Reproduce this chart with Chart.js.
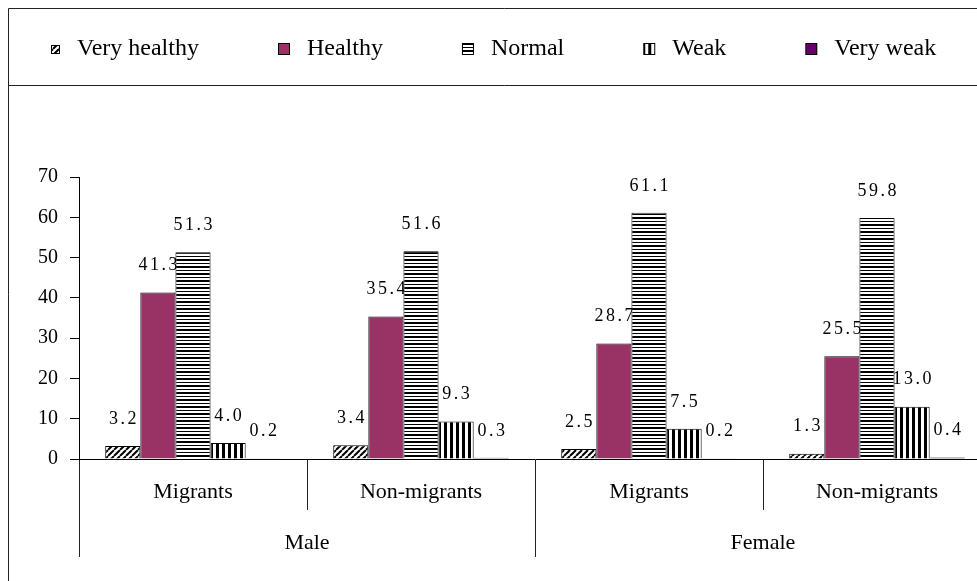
<!DOCTYPE html>
<html>
<head>
<meta charset="utf-8">
<title>Health status of migrants and non-migrants</title>
<script src="https://cdn.jsdelivr.net/npm/chart.js@4/dist/chart.umd.min.js"></script>
<style>
  html, body { margin: 0; padding: 0; background: #fff; overflow: hidden; }
  #wrap { position: relative; width: 1000px; height: 581px; }
</style>
</head>
<body>
<div id="wrap"><canvas id="healthchart"></canvas></div>
<script>
var groups = ["Migrants", "Non-migrants", "Migrants", "Non-migrants"];
var sexes = ["Male", "Female"];
var statusNames = ["Very healthy", "Healthy", "Normal", "Weak", "Very weak"];
var veryHealthy = [3.2, 3.4, 2.5, 1.3];
var healthy = [41.3, 35.4, 28.7, 25.5];
var normal = [51.3, 51.6, 61.1, 59.8];
var weak = [4.0, 9.3, 7.5, 13.0];
var veryWeak = [0.2, 0.3, 0.2, 0.4];
var yTicks = [0, 10, 20, 30, 40, 50, 60, 70];

var SERIF = '"Liberation Serif", "Times New Roman", Times, serif';
Chart.defaults.font.family = SERIF;
Chart.defaults.color = "#000";

var KEY_W = 96; // width of each legend key image

// little black & white fills like the old excel patterns
function makeTile(w, h, draw) {
  var c = document.createElement("canvas");
  c.width = w;
  c.height = h;
  var g = c.getContext("2d");
  g.fillStyle = "#fff";
  g.fillRect(0, 0, w, h);
  g.fillStyle = "#000";
  g.strokeStyle = "#000";
  draw(g);
  return g.createPattern(c, "repeat");
}

var diagFill = makeTile(6, 6, function (g) {
  g.lineWidth = 2;
  g.beginPath();
  for (var o = -6; o <= 6; o += 6) {
    g.moveTo(o, 6);
    g.lineTo(o + 6, 0);
  }
  g.stroke();
});
var hLinesFill = makeTile(4, 7, function (g) {
  g.fillRect(0, 0, 4, 2);
  g.fillRect(0, 4, 4, 1);
});
var vLinesFill = makeTile(6, 4, function (g) { g.fillRect(0, 0, 3, 4); });

var fills = [diagFill, "#993366", hLinesFill, vLinesFill, "#660066"];
var seriesData = [veryHealthy, healthy, normal, weak, veryWeak];

// legend keys: swatch sits near the right of a wide transparent image
function makeSwatch(fill, size) {
  var c = document.createElement("canvas");
  c.width = KEY_W;
  c.height = 12;
  var g = c.getContext("2d");
  var x = c.width - size - 5;
  var y = Math.round((c.height - size) / 2);
  g.fillStyle = fill;
  g.fillRect(x, y, size, size);
  g.strokeStyle = "#000";
  g.lineWidth = 1;
  g.strokeRect(x + 0.5, y + 0.5, size - 1, size - 1);
  return c;
}
var swatches = fills.map(function (f, i) { return makeSwatch(f, i === 0 ? 9 : 12); });

var frame = {
  id: "frame",
  beforeDraw: function (chart) {
    var c = chart.ctx;
    c.save();
    c.strokeStyle = "#222";
    c.lineWidth = 1;
    c.beginPath();
    c.moveTo(8.5, chart.height);
    c.lineTo(8.5, 8.5);
    c.lineTo(chart.width, 8.5);
    c.moveTo(8.5, 85.5);
    c.lineTo(chart.width, 85.5);
    c.stroke();
    c.restore();
  }
};

// spaced-out text, drawn one char at a time
function spacedText(c, str, cx, cy, gap) {
  var widths = str.split("").map(function (ch) { return c.measureText(ch).width; });
  var total = widths.reduce(function (a, b) { return a + b; }, 0) + gap * (str.length - 1);
  var x = cx - total / 2;
  str.split("").forEach(function (ch, k) {
    c.fillText(ch, x, cy);
    x += widths[k] + gap;
  });
}

// value labels go under the bars, like in the original
var barLabels = {
  id: "barLabels",
  beforeDatasetsDraw: function (chart) {
    var c = chart.ctx;
    c.save();
    c.font = "18px " + SERIF;
    c.fillStyle = "#000";
    c.textAlign = "left";
    c.textBaseline = "middle";
    chart.data.datasets.forEach(function (ds, i) {
      chart.getDatasetMeta(i).data.forEach(function (bar, j) {
        spacedText(c, ds.data[j].toFixed(1), bar.x, bar.y - 27, 2.5);
      });
    });
    c.restore();
  }
};

var ctx = document.getElementById("healthchart").getContext("2d");
var myChart = new Chart(ctx, {
  type: "bar",
  data: {
    labels: groups,
    datasets: statusNames.map(function (name, i) {
      return {
        label: name,
        data: seriesData[i],
        backgroundColor: fills[i],
        borderColor: "#000",
        borderWidth: 1,
        categoryPercentage: 0.77,
        barPercentage: 1.0,
      };
    }),
  },
  options: {
    responsive: true,
    maintainAspectRatio: false,
    animation: false,
    events: [],
    layout: { padding: { top: 37, left: -31, right: 9, bottom: 0 } },
    plugins: {
      tooltip: { enabled: false },
      legend: {
        position: "top",
        align: "start",
        weight: 1000,
        labels: {
          usePointStyle: true,
          pointStyleWidth: KEY_W,
          padding: 0,
          color: "#000",
          font: { size: 24 },
          generateLabels: function (chart) {
            var items = Chart.defaults.plugins.legend.labels.generateLabels(chart);
            items.forEach(function (item, i) {
              item.pointStyle = swatches[i];
            });
            return items;
          },
        },
      },
    },
    scales: {
      xTop: {
        type: "category",
        position: "top",
        grid: { display: false },
        border: { display: false },
        ticks: { display: false },
        afterFit: function (s) { s.height = 106; },
      },
      x: {
        position: "bottom",
        weight: 0,
        grid: { offset: true, drawOnChartArea: false, tickLength: 51, color: "#222" },
        border: { color: "#000" },
        ticks: { font: { size: 22 }, padding: -31, maxRotation: 0, autoSkip: false },
        afterFit: function (s) { s.height = 51; },
      },
      x2: {
        type: "category",
        labels: sexes,
        position: "bottom",
        weight: 1,
        offset: true,
        grid: { offset: true, drawOnChartArea: false, tickLength: 47, color: "#222" },
        border: { display: false },
        ticks: { font: { size: 22 }, padding: -27, maxRotation: 0 },
        afterFit: function (s) { s.height = 71; },
      },
      y: {
        min: yTicks[0],
        max: yTicks[yTicks.length - 1],
        ticks: { stepSize: yTicks[1] - yTicks[0], font: { size: 20 }, padding: 12 },
        grid: { drawOnChartArea: false, tickLength: 9, color: "#000" },
        border: { color: "#000" },
        afterFit: function (s) { s.width = 110; },
      },
    },
  },
  plugins: [frame, barLabels],
});
</script>
</body>
</html>
